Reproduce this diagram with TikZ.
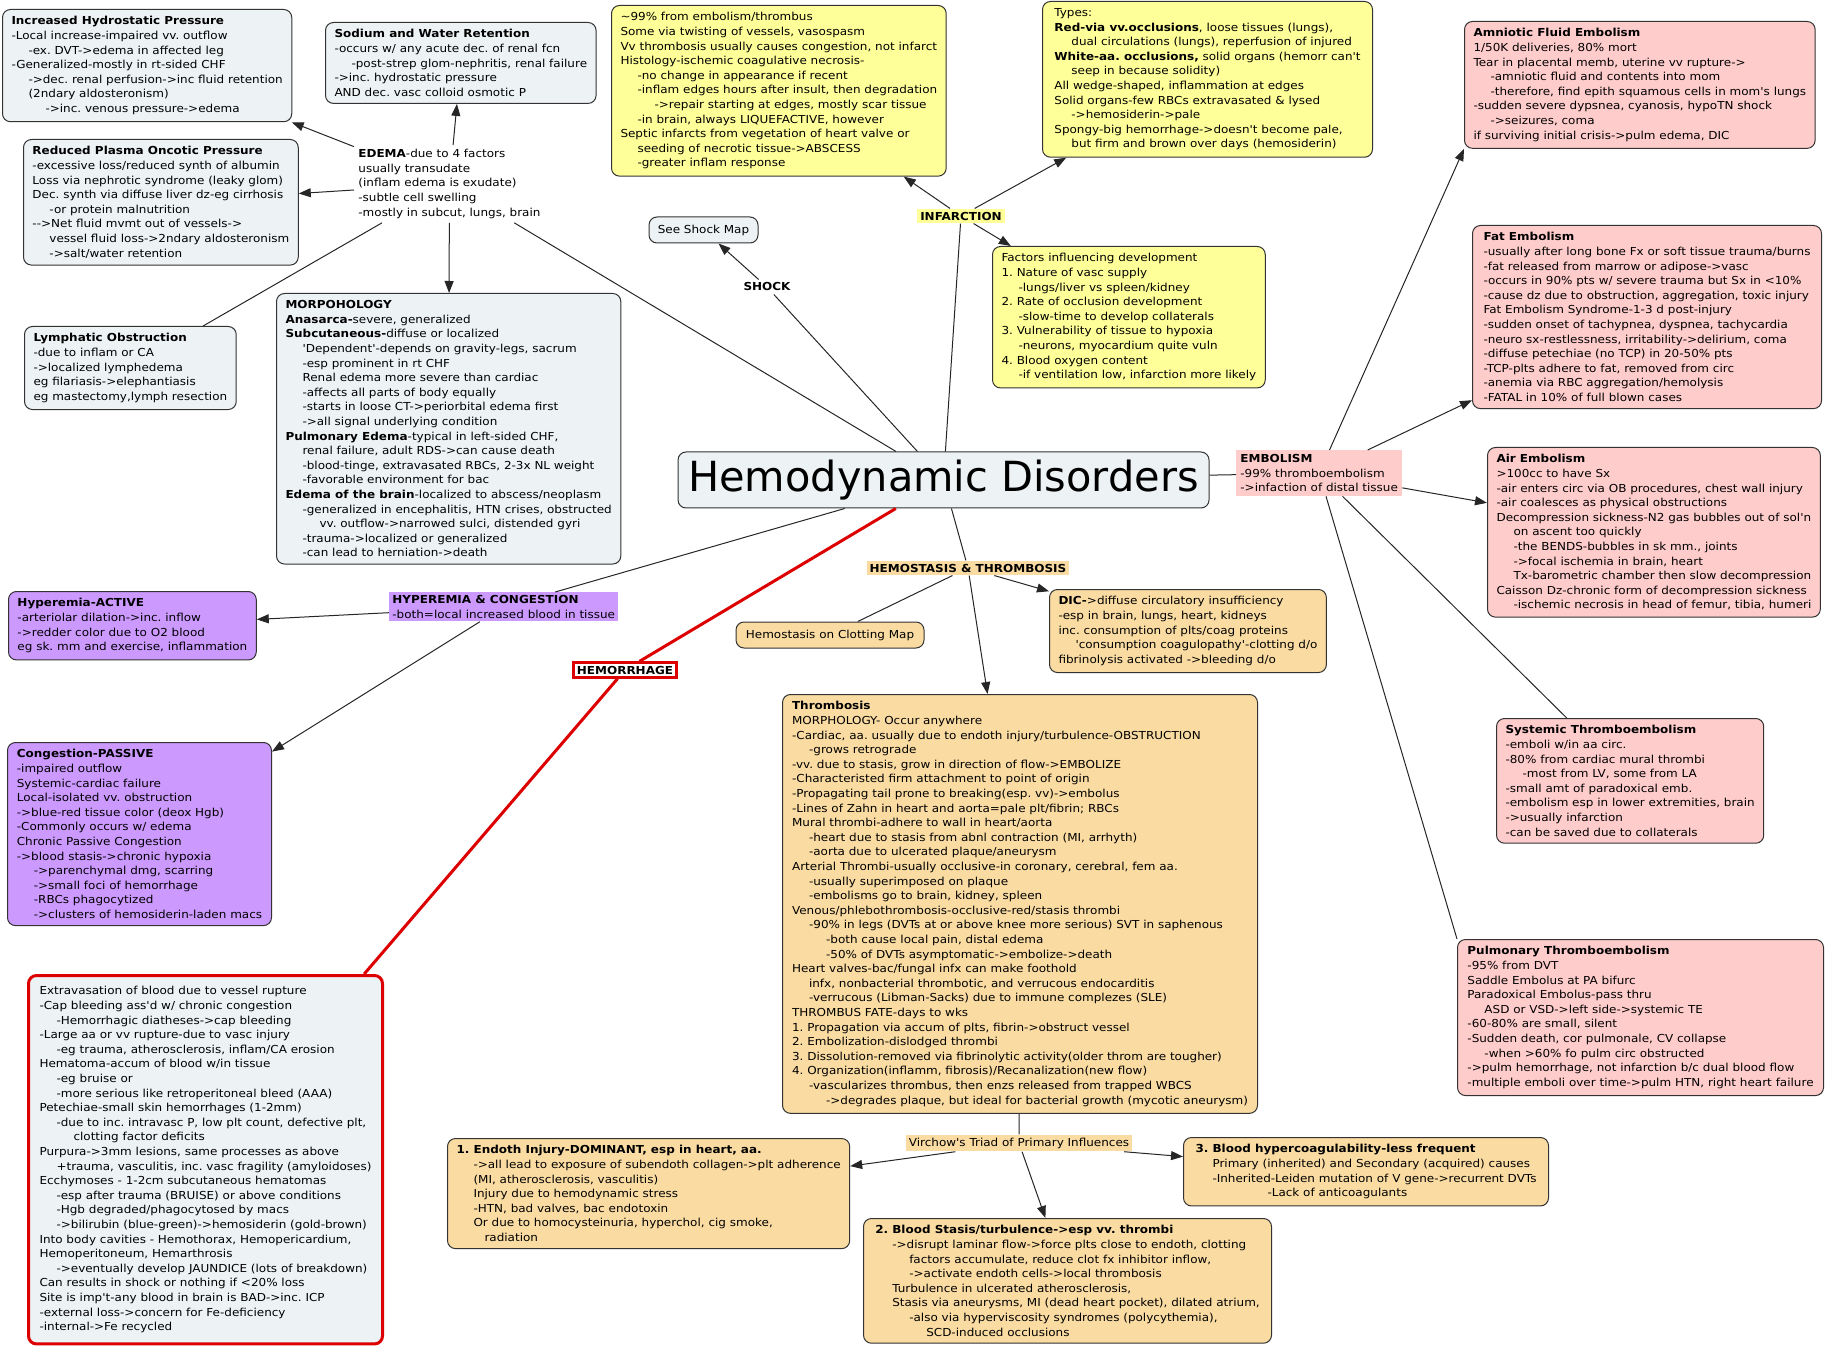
\documentclass[tikz,border=0pt]{standalone}
\usepackage{fontspec}
\setmainfont{DejaVu Sans}[FakeStretch=1.09,Ligatures=TeXOff]
\newfontfamily\titlefont{DejaVu Sans}
\usepackage{tikz}
\usetikzlibrary{arrows.meta}
\definecolor{boxblue}{HTML}{EDF3F5}
\definecolor{boxyellow}{HTML}{FFFF99}
\definecolor{boxpink}{HTML}{FFCCCC}
\definecolor{boxtan}{HTML}{FADCA3}
\definecolor{boxpurple}{HTML}{CC99FF}
\definecolor{bloodred}{HTML}{DD0000}
\newcommand{\mapfont}{\fontsize{5.5pt}{7.3pt}\selectfont}
\newcommand{\indA}{\hspace*{8.5pt}}
\newcommand{\indB}{\hspace*{17pt}}
\newcommand{\indC}{\hspace*{25.5pt}}
\frenchspacing

\begin{document}
\begin{tikzpicture}[x=0.5pt,y=-0.5pt,>={Triangle[length=6pt,width=4.5pt]},
  every node/.style={font=\mapfont},
  mapbox/.style={draw=black!80,rounded corners=4pt,line width=0.5pt,anchor=north west,align=left,inner xsep=4.5pt,inner ysep=3.5pt},
  bluebox/.style={mapbox,fill=boxblue},
  yellowbox/.style={mapbox,fill=boxyellow},
  pinkbox/.style={mapbox,fill=boxpink},
  tanbox/.style={mapbox,fill=boxtan},
  purplebox/.style={mapbox,fill=boxpurple},
  tag/.style={inner sep=1.5pt,font=\mapfont\bfseries},
  link/.style={draw=black!85,line width=0.5pt},
  bloodlink/.style={draw=bloodred,line width=1.5pt}]
\useasboundingbox (0,0) rectangle (1825,1347);

% centre
\node[draw=black!80,fill=boxblue,rounded corners=4pt,line width=0.5pt,minimum width=265.5pt,minimum height=28pt,font=\titlefont\fontsize{20.75pt}{24pt}\selectfont] (hemo) at (943.5,480) {Hemodynamic Disorders};

% edema branch
\node[anchor=north west,align=left,inner sep=2pt] (edema) at (354,145) {{\bfseries EDEMA}-due to 4 factors\\usually transudate\\(inflam edema is exudate)\\-subtle cell swelling\\-mostly in subcut, lungs, brain};
\node[bluebox,minimum width=144pt] (hydro) at (2,9) {{\bfseries Increased Hydrostatic Pressure}\\-Local increase-impaired vv. outflow\\\indA-ex. DVT->edema in affected leg\\-Generalized-mostly in rt-sided CHF\\\indA->dec. renal perfusion->inc fluid retention\\\indA(2ndary aldosteronism)\\\indB->inc. venous pressure->edema};
\node[bluebox,minimum width=134pt] (sodium) at (325,22) {{\bfseries Sodium and Water Retention}\\-occurs w/ any acute dec. of renal fcn\\\indA-post-strep glom-nephritis, renal failure\\->inc. hydrostatic pressure\\AND dec. vasc colloid osmotic P};
\node[bluebox,minimum width=136.5pt] (oncotic) at (23,139) {{\bfseries Reduced Plasma Oncotic Pressure}\\-excessive loss/reduced synth of albumin\\Loss via nephrotic syndrome (leaky glom)\\Dec. synth via diffuse liver dz-eg cirrhosis\\\indA-or protein malnutrition\\-{}->Net fluid mvmt out of vessels->\\\indA vessel fluid loss->2ndary aldosteronism\\\indA->salt/water retention};
\node[bluebox,minimum width=104.5pt] (lymph) at (24,326) {{\bfseries Lymphatic Obstruction}\\-due to inflam or CA\\->localized lymphedema\\eg filariasis->elephantiasis\\eg mastectomy,lymph resection};
\node[bluebox,minimum width=171pt] (morph) at (276,293) {{\bfseries MORPOHOLOGY}\\{\bfseries Anasarca-}severe, generalized\\{\bfseries Subcutaneous-}diffuse or localized\\\indA'Dependent'-depends on gravity-legs, sacrum\\\indA-esp prominent in rt CHF\\\indA Renal edema more severe than cardiac\\\indA-affects all parts of body equally\\\indA-starts in loose CT->periorbital edema first\\\indA->all signal underlying condition\\{\bfseries Pulmonary Edema}-typical in left-sided CHF,\\\indA renal failure, adult RDS->can cause death\\\indA-blood-tinge, extravasated RBCs, 2-3x NL weight\\\indA-favorable environment for bac\\{\bfseries Edema of the brain}-localized to abscess/neoplasm\\\indA-generalized in encephalitis, HTN crises, obstructed\\\indB vv. outflow->narrowed sulci, distended gyri\\\indA-trauma->localized or generalized\\\indA-can lead to herniation->death};

% shock
\node[tag] (shock) at (767,287) {SHOCK};
\node[draw=black!80,fill=boxblue,rounded corners=4pt,line width=0.5pt,minimum width=54.5pt,minimum height=13pt] (shockmap) at (703.5,230) {See Shock Map};

% infarction
\node[tag,fill=boxyellow] (infarct) at (961,216) {INFARCTION};
\node[yellowbox,minimum width=167pt] (infgen) at (611,5) {\textasciitilde99\% from embolism/thrombus\\Some via twisting of vessels, vasospasm\\Vv thrombosis usually causes congestion, not infarct\\Histology-ischemic coagulative necrosis-\\\indA-no change in appearance if recent\\\indA-inflam edges hours after insult, then degradation\\\indB->repair starting at edges, mostly scar tissue\\\indA-in brain, always LIQUEFACTIVE, however\\Septic infarcts from vegetation of heart valve or\\\indA seeding of necrotic tissue->ABSCESS\\\indA-greater inflam response};
\node[yellowbox,minimum width=165pt] (inftypes) at (1042,1) {Types:\\{\bfseries Red-via vv.occlusions}, loose tissues (lungs),\\\indA dual circulations (lungs), reperfusion of injured\\{\bfseries White-aa. occlusions,} solid organs (hemorr can't\\\indA seep in because solidity)\\All wedge-shaped, inflammation at edges\\Solid organs-few RBCs extravasated \& lysed\\\indA->hemosiderin->pale\\Spongy-big hemorrhage->doesn't become pale,\\\indA but firm and brown over days (hemosiderin)};
\node[yellowbox,minimum width=136pt] (inffactors) at (992,246) {Factors influencing development\\1. Nature of vasc supply\\\indA-lungs/liver vs spleen/kidney\\2. Rate of occlusion development\\\indA-slow-time to develop collaterals\\3. Vulnerability of tissue to hypoxia\\\indA-neurons, myocardium quite vuln\\4. Blood oxygen content\\\indA-if ventilation low, infarction more likely};

% embolism
\node[anchor=north west,align=left,inner sep=2pt,fill=boxpink] (embol) at (1236,450) {{\bfseries EMBOLISM}\\-99\% thromboembolism\\->infaction of distal tissue};
\node[pinkbox,minimum width=175pt] (amnio) at (1464,21) {{\bfseries Amniotic Fluid Embolism}\\1/50K deliveries, 80\% mort\\Tear in placental memb, uterine vv rupture->\\\indA-amniotic fluid and contents into mom\\\indA-therefore, find epith squamous cells in mom's lungs\\-sudden severe dypsnea, cyanosis, hypoTN shock\\\indA->seizures, coma\\if surviving initial crisis->pulm edema, DIC};
\node[pinkbox,minimum width=174.5pt] (fat) at (1472,225) {{\bfseries Fat Embolism}\\-usually after long bone Fx or soft tissue trauma/burns\\-fat released from marrow or adipose->vasc\\-occurs in 90\% pts w/ severe trauma but Sx in <10\%\\-cause dz due to obstruction, aggregation, toxic injury\\Fat Embolism Syndrome-1-3 d post-injury\\-sudden onset of tachypnea, dyspnea, tachycardia\\-neuro sx-restlessness, irritability->delirium, coma\\-diffuse petechiae (no TCP) in 20-50\% pts\\-TCP-plts adhere to fat, removed from circ\\-anemia via RBC aggregation/hemolysis\\-FATAL in 10\% of full blown cases};
\node[pinkbox,minimum width=166pt] (air) at (1487,447) {{\bfseries Air Embolism}\\>100cc to have Sx\\-air enters circ via OB procedures, chest wall injury\\-air coalesces as physical obstructions\\Decompression sickness-N2 gas bubbles out of sol'n\\\indA on ascent too quickly\\\indA-the BENDS-bubbles in sk mm., joints\\\indA->focal ischemia in brain, heart\\\indA Tx-barometric chamber then slow decompression\\Caisson Dz-chronic form of decompression sickness\\\indA-ischemic necrosis in head of femur, tibia, humeri};
\node[pinkbox,minimum width=133pt] (systemic) at (1496,718) {{\bfseries Systemic Thromboembolism}\\-emboli w/in aa circ.\\-80\% from cardiac mural thrombi\\\indA-most from LV, some from LA\\-small amt of paradoxical emb.\\-embolism esp in lower extremities, brain\\->usually infarction\\-can be saved due to collaterals};
\node[pinkbox,minimum width=183pt] (pulm) at (1457,939) {{\bfseries Pulmonary Thromboembolism}\\-95\% from DVT\\Saddle Embolus at PA bifurc\\Paradoxical Embolus-pass thru\\\indA ASD or VSD->left side->systemic TE\\-60-80\% are small, silent\\-Sudden death, cor pulmonale, CV collapse\\\indA-when >60\% fo pulm circ obstructed\\->pulm hemorrhage, not infarction b/c dual blood flow\\-multiple emboli over time->pulm HTN, right heart failure};

% hemostasis and thrombosis
\node[tag,fill=boxtan] (hemost) at (968,568) {HEMOSTASIS \& THROMBOSIS};
\node[draw=black!80,fill=boxtan,rounded corners=4pt,line width=0.5pt,minimum width=94pt,minimum height=13pt] (clotmap) at (830,635) {Hemostasis on Clotting Map};
\node[tanbox,minimum width=137.5pt] (dic) at (1049,589) {{\bfseries DIC-}>diffuse circulatory insufficiency\\-esp in brain, lungs, heart, kidneys\\inc. consumption of plts/coag proteins\\\indA'consumption coagulopathy'-clotting d/o\\fibrinolysis activated ->bleeding d/o};
\node[tanbox,minimum width=237.5pt] (thromb) at (782,694) {{\bfseries Thrombosis}\\MORPHOLOGY- Occur anywhere\\-Cardiac, aa. usually due to endoth injury/turbulence-OBSTRUCTION\\\indA-grows retrograde\\-vv. due to stasis, grow in direction of flow->EMBOLIZE\\-Characteristed firm attachment to point of origin\\-Propagating tail prone to breaking(esp. vv)->embolus\\-Lines of Zahn in heart and aorta=pale plt/fibrin; RBCs\\Mural thrombi-adhere to wall in heart/aorta\\\indA-heart due to stasis from abnl contraction (MI, arrhyth)\\\indA-aorta due to ulcerated plaque/aneurysm\\Arterial Thrombi-usually occlusive-in coronary, cerebral, fem aa.\\\indA-usually superimposed on plaque\\\indA-embolisms go to brain, kidney, spleen\\Venous/phlebothrombosis-occlusive-red/stasis thrombi\\\indA-90\% in legs (DVTs at or above knee more serious) SVT in saphenous\\\indB-both cause local pain, distal edema\\\indB-50\% of DVTs asymptomatic->embolize->death\\Heart valves-bac/fungal infx can make foothold\\\indA infx, nonbacterial thrombotic, and verrucous endocarditis\\\indA-verrucous (Libman-Sacks) due to immune complezes (SLE)\\THROMBUS FATE-days to wks\\1. Propagation via accum of plts, fibrin->obstruct vessel\\2. Embolization-dislodged thrombi\\3. Dissolution-removed via fibrinolytic activity(older throm are tougher)\\4. Organization(inflamm, fibrosis)/Recanalization(new flow)\\\indA-vascularizes thrombus, then enzs released from trapped WBCS\\\indB->degrades plaque, but ideal for bacterial growth (mycotic aneurysm)};
\node[inner sep=1.5pt,fill=boxtan] (virchow) at (1019,1143) {Virchow's Triad of Primary Influences};
\node[tanbox,minimum width=200.5pt] (endoth) at (447,1138) {{\bfseries 1. Endoth Injury-DOMINANT, esp in heart, aa.}\\\indA->all lead to exposure of subendoth collagen->plt adherence\\\indA(MI, atherosclerosis, vasculitis)\\\indA Injury due to hemodynamic stress\\\indA-HTN, bad valves, bac endotoxin\\\indA Or due to homocysteinuria, hyperchol, cig smoke,\\\hspace*{14pt}radiation};
\node[tanbox,minimum width=204pt] (stasis) at (863,1218) {{\bfseries 2. Blood Stasis/turbulence->esp vv. thrombi}\\\indA->disrupt laminar flow->force plts close to endoth, clotting\\\indB factors accumulate, reduce clot fx inhibitor inflow,\\\indB->activate endoth cells->local thrombosis\\\indA Turbulence in ulcerated atherosclerosis,\\\indA Stasis via aneurysms, MI (dead heart pocket), dilated atrium,\\\indB-also via hyperviscosity syndromes (polycythemia),\\\indC SCD-induced occlusions};
\node[tanbox,minimum width=182.5pt] (hypercoag) at (1183,1137) {{\bfseries 3. Blood hypercoagulability-less frequent}\\\indA Primary (inherited) and Secondary (acquired) causes\\\indA-Inherited-Leiden mutation of V gene->recurrent DVTs\\\hspace*{36pt}-Lack of anticoagulants};

% hyperemia and congestion
\node[anchor=north west,align=left,inner sep=1.5pt,fill=boxpurple] (hyper) at (389,592) {{\bfseries HYPEREMIA \& CONGESTION}\\-both=local increased blood in tissue};
\node[purplebox,minimum width=123.5pt] (active) at (8,591) {{\bfseries Hyperemia-ACTIVE}\\-arteriolar dilation->inc. inflow\\->redder color due to O2 blood\\eg sk. mm and exercise, inflammation};
\node[purplebox,minimum width=132pt] (passive) at (7,742) {{\bfseries Congestion-PASSIVE}\\-impaired outflow\\Systemic-cardiac failure\\Local-isolated vv. obstruction\\->blue-red tissue color (deox Hgb)\\-Commonly occurs w/ edema\\Chronic Passive Congestion\\->blood stasis->chronic hypoxia\\\indA->parenchymal dmg, scarring\\\indA->small foci of hemorrhage\\\indA-RBCs phagocytized\\\indA->clusters of hemosiderin-laden macs};

% hemorrhage
\node[tag,draw=bloodred,line width=1.5pt,fill=white] (hemorr) at (625,670) {HEMORRHAGE};
\node[bluebox,draw=bloodred,line width=1.5pt,inner xsep=5pt,inner ysep=5.5pt,minimum width=177pt] (hemorrbox) at (27,974) {Extravasation of blood due to vessel rupture\\-Cap bleeding ass'd w/ chronic congestion\\\indA-Hemorrhagic diatheses->cap bleeding\\-Large aa or vv rupture-due to vasc injury\\\indA-eg trauma, atherosclerosis, inflam/CA erosion\\Hematoma-accum of blood w/in tissue\\\indA-eg bruise or\\\indA-more serious like retroperitoneal bleed (AAA)\\Petechiae-small skin hemorrhages (1-2mm)\\\indA-due to inc. intravasc P, low plt count, defective plt,\\\indB clotting factor deficits\\Purpura->3mm lesions, same processes as above\\\indA+trauma, vasculitis, inc. vasc fragility (amyloidoses)\\Ecchymoses - 1-2cm subcutaneous hematomas\\\indA-esp after trauma (BRUISE) or above conditions\\\indA-Hgb degraded/phagocytosed by macs\\\indA->bilirubin (blue-green)->hemosiderin (gold-brown)\\Into body cavities - Hemothorax, Hemopericardium,\\Hemoperitoneum, Hemarthrosis\\\indA->eventually develop JAUNDICE (lots of breakdown)\\Can results in shock or nothing if <20\% loss\\Site is imp't-any blood in brain is BAD->inc. ICP\\-external loss->concern for Fe-deficiency\\-internal->Fe recycled};

% connectors
\draw[link,->] (edema) -- (hydro);
\draw[link,->] (edema) -- (sodium);
\draw[link,->] (edema) -- (oncotic);
\draw[link] (edema) -- (lymph);
\draw[link,->] (edema) -- (morph);
\draw[link] (hemo) -- (edema);
\draw[link] (hemo) -- (shock);
\draw[link,->] (shock) -- (shockmap);
\draw[link] (hemo) -- (infarct);
\draw[link,->] (infarct) -- (infgen);
\draw[link,->] (infarct) -- (inftypes);
\draw[link,->] (infarct) -- (inffactors);
\draw[link] (hemo) -- (embol);
\draw[link,->] (embol) -- (amnio.south west);
\draw[link,->] (embol) -- (fat);
\draw[link,->] (embol) -- (air);
\draw[link] (embol) -- (systemic);
\draw[link] (embol) -- (pulm.north west);
\draw[link] (hemo) -- (hemost);
\draw[link] (hemost) -- (clotmap);
\draw[link,->] (hemost) -- (dic);
\draw[link,->] (hemost) -- (thromb);
\draw[link] (thromb) -- (virchow);
\draw[link,->] (virchow) -- (endoth);
\draw[link,->] (virchow) -- (stasis);
\draw[link,->] (virchow) -- (hypercoag);
\draw[link] (hemo) -- (hyper);
\draw[link,->] (hyper) -- (active);
\draw[link,->] (hyper) -- (passive);
\draw[bloodlink] (hemo) -- (hemorr);
\draw[bloodlink] (hemorr) -- (hemorrbox);
\end{tikzpicture}
\end{document}
